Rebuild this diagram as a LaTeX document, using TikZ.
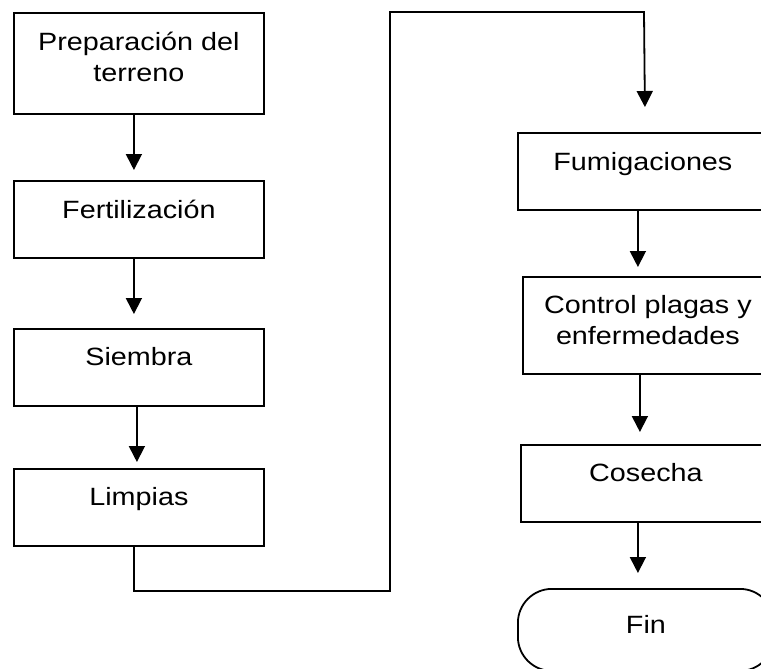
\documentclass[tikz,border=0pt]{standalone}
\usepackage{fontspec}
\setmainfont[FakeStretch=1.15]{Liberation Sans}
\usetikzlibrary{arrows.meta}
\begin{document}
\begin{tikzpicture}[x=1pt,y=-1pt,
  box/.style={draw, line width=1.8pt, minimum width=250pt, inner sep=0pt, anchor=north west},
  lbl/.style={anchor=base, inner sep=0pt, align=center, font=\fontsize{25}{31.5}\selectfont},
  arr/.style={line width=1.8pt, -{Triangle[length=16pt,width=16pt]}}]
\useasboundingbox (0,0) rectangle (761,669);
\fill[white] (0,0) rectangle (761,669);
\clip (0,0) rectangle (761,669);
% boxes
\node[box, minimum height=101pt] (p) at (13,12) {};
\node[box, minimum height=77pt] (f) at (13,180) {};
\node[box, minimum height=77pt] (s) at (13,328) {};
\node[box, minimum height=77pt] (l) at (13,468) {};
\node[box, minimum height=77pt] (fu) at (517,132) {};
\node[box, minimum height=97pt] (ct) at (522,276) {};
\node[box, minimum height=77pt] (co) at (520,444) {};
\node[box, minimum width=256pt, minimum height=82pt, rounded corners=34pt] (fin) at (517,588) {};
% labels
\node[lbl] (tp) at ([yshift=-69.5pt]p.north) {Preparación del\\terreno};
\node[lbl] (tf) at ([yshift=-38pt]f.north) {Fertilización};
\node[lbl] (ts) at ([yshift=-37pt]s.north) {Siembra};
\node[lbl] (tl) at ([yshift=-37pt]l.north) {Limpias};
\node[lbl] (tfu) at ([yshift=-38pt]fu.north) {Fumigaciones};
\node[lbl] (tct) at ([yshift=-68.5pt]ct.north) {Control plagas y\\enfermedades};
\node[lbl] (tco) at ([yshift=-37pt]co.north) {Cosecha};
\node[lbl] (tfin) at ([yshift=-45pt]fin.north) {Fin};
% connectors
\coordinate (b1) at (390,591);
\coordinate (t1) at (390,12);
\coordinate (t2) at (644,12);
\draw[arr] ([xshift=-5pt]p.south) -- ([xshift=-5pt,yshift=10pt]f.north);
\draw[arr] ([xshift=-5pt]f.south) -- ([xshift=-5pt,yshift=14pt]s.north);
\draw[arr] ([xshift=-2pt]s.south) -- ([xshift=-2pt,yshift=6pt]l.north);
\draw[arr] ([xshift=-5pt]l.south) |- (b1) -- (t1) -- (t2) -- ([xshift=2pt,yshift=25pt]fu.north);
\draw[arr] ([xshift=-5pt]fu.south) -- ([xshift=-10pt,yshift=9pt]ct.north);
\draw[arr] ([xshift=-8pt]ct.south) -- ([xshift=-6pt,yshift=12pt]co.north);
\draw[arr] ([xshift=-8pt]co.south) -- ([xshift=-8pt,yshift=15pt]fin.north);
\end{tikzpicture}
\end{document}
